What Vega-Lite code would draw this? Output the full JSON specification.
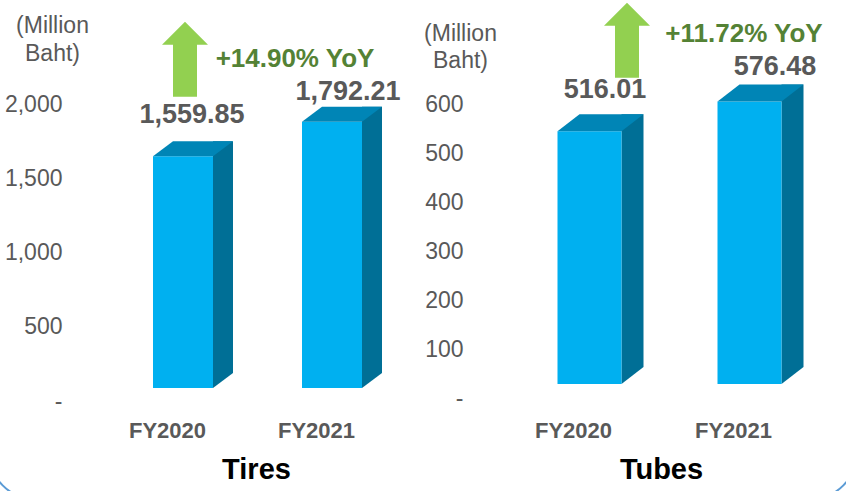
{
  "$schema": "https://vega.github.io/schema/vega-lite/v6.json",
  "width": 846,
  "height": 491,
  "autosize": {"type": "none"},
  "padding": 0,
  "background": "white",
  "config": {
    "font": "Liberation Sans",
    "view": {"stroke": null},
    "axis": {"grid": false, "domain": false, "ticks": false, "tickSize": 0}
  },
  "layer": [
    {
      "data": {"values": [{"frame": "border"}]},
      "mark": {"type": "rect", "fill": null, "stroke": "#5b9bd5", "strokeWidth": 2, "cornerRadius": 50},
      "encoding": {
        "x": {"datum": 0, "type": "quantitative", "scale": {"domain": [0, 1], "range": [-12, 858], "nice": false, "zero": false}, "axis": null},
        "x2": {"datum": 1},
        "y": {"datum": 0, "type": "quantitative", "scale": {"domain": [0, 1], "range": [-30, 500], "nice": false, "zero": false}, "axis": null},
        "y2": {"datum": 1}
      }
    },
    {
      "data": {"values": [
        {"segment": "Tires", "year": "FY2020", "value": 1559.85, "yoy": "+14.90% YoY"},
        {"segment": "Tires", "year": "FY2021", "value": 1792.21, "yoy": "+14.90% YoY"}
      ]},
      "encoding": {
        "x": {"field": "year", "type": "nominal", "scale": {"type": "point", "range": [167, 316], "padding": 0},
          "axis": {"orient": "bottom", "offset": -90, "labelFontSize": 22, "labelFontWeight": "bold", "labelColor": "#595959", "labelBaseline": "alphabetic", "labelPadding": 36, "labelAngle": 0,
            "title": "Tires", "titleFontSize": 29, "titleFontWeight": "bold", "titleColor": "#000000", "titleX": 256, "titleY": 77, "titleAlign": "center", "titleBaseline": "alphabetic"}},
        "y": {"field": "value", "type": "quantitative", "scale": {"domain": [0, 2000], "range": [401, 104], "nice": false},
          "axis": {"orient": "left", "offset": -70, "values": [0, 500, 1000, 1500, 2000], "labelExpr": "datum.value == 0 ? '-' : format(datum.value, ',')", "labelFontSize": 23, "labelColor": "#595959", "labelPadding": 8, "labelBaseline": "middle",
            "title": ["(Million", "Baht)"], "titleAngle": 0, "titleAlign": "center", "titleBaseline": "alphabetic", "titleX": -18, "titleY": 32, "titleFontSize": 23, "titleFontWeight": "normal", "titleColor": "#595959", "titleLineHeight": 28}}
      },
      "layer": [
        {"mark": {"type": "bar", "width": 20, "color": "#006f96", "xOffset": 56, "yOffset": -28, "y2Offset": -28}},
        {"mark": {"type": "point", "shape": "M -1 -0.75 L -1 0.75 L 1 -0.75 Z", "size": 400, "filled": true, "opacity": 1, "color": "#006f96", "strokeWidth": 0, "xOffset": 56, "yOffset": -20.5},
          "encoding": {"y": {"datum": 0, "type": "quantitative"}}},
        {"mark": {"type": "bar", "width": 60, "color": "#00b0f0", "xOffset": 16, "yOffset": -13, "y2Offset": -13}},
        {"mark": {"type": "point", "shape": "M -1 0.1875 L 0.5 0.1875 L 1 -0.1875 L -0.5 -0.1875 Z", "size": 6400, "filled": true, "opacity": 1, "color": "#0085b6", "strokeWidth": 0, "xOffset": 26, "yOffset": -20.5}},
        {"transform": [{"filter": "datum.year == 'FY2020'"}],
          "mark": {"type": "text", "fontSize": 27, "fontWeight": "bold", "color": "#595959", "baseline": "alphabetic", "align": "center", "dx": 25, "dy": -46},
          "encoding": {"text": {"field": "value", "type": "quantitative", "format": ",.2f"}}},
        {"transform": [{"filter": "datum.year == 'FY2021'"}],
          "mark": {"type": "text", "fontSize": 27, "fontWeight": "bold", "color": "#595959", "baseline": "alphabetic", "align": "center", "dx": 32, "dy": -35},
          "encoding": {"text": {"field": "value", "type": "quantitative", "format": ",.2f"}}},
        {"transform": [{"filter": "datum.year == 'FY2020'"}],
          "mark": {"type": "point", "shape": "M 0 -1 L 0.613 -0.387 L 0.32 -0.387 L 0.32 1 L -0.32 1 L -0.32 -0.387 L -0.613 -0.387 Z", "size": 5625, "filled": true, "opacity": 1, "color": "#92d050", "strokeWidth": 0, "xOffset": 18, "yOffset": -110}},
        {"transform": [{"filter": "datum.year == 'FY2021'"}],
          "mark": {"type": "text", "fontSize": 26, "fontWeight": "bold", "color": "#548235", "baseline": "alphabetic", "align": "center", "dx": -21, "dy": -68},
          "encoding": {"text": {"field": "yoy", "type": "nominal"}}}
      ]
    },
    {
      "data": {"values": [
        {"segment": "Tubes", "year": "FY2020", "value": 516.01, "yoy": "+11.72% YoY"},
        {"segment": "Tubes", "year": "FY2021", "value": 576.48, "yoy": "+11.72% YoY"}
      ]},
      "encoding": {
        "x": {"field": "year", "type": "nominal", "scale": {"type": "point", "range": [573, 733], "padding": 0},
          "axis": {"orient": "bottom", "offset": -90, "labelFontSize": 22, "labelFontWeight": "bold", "labelColor": "#595959", "labelBaseline": "alphabetic", "labelPadding": 36, "labelAngle": 0,
            "title": "Tubes", "titleFontSize": 29, "titleFontWeight": "bold", "titleColor": "#000000", "titleX": 661, "titleY": 77, "titleAlign": "center", "titleBaseline": "alphabetic"}},
        "y": {"field": "value", "type": "quantitative", "scale": {"domain": [0, 600], "range": [398, 104], "nice": false},
          "axis": {"orient": "left", "offset": -471, "values": [0, 100, 200, 300, 400, 500, 600], "labelExpr": "datum.value == 0 ? '-' : format(datum.value, ',')", "labelFontSize": 23, "labelColor": "#595959", "labelPadding": 8, "labelBaseline": "middle",
            "title": ["(Million", "Baht)"], "titleAngle": 0, "titleAlign": "center", "titleBaseline": "alphabetic", "titleX": -11, "titleY": 40, "titleFontSize": 23, "titleFontWeight": "normal", "titleColor": "#595959", "titleLineHeight": 27}}
      },
      "layer": [
        {"mark": {"type": "bar", "width": 22, "color": "#006f96", "xOffset": 59.5, "yOffset": -31, "y2Offset": -31}},
        {"mark": {"type": "point", "shape": "M -1 -0.773 L -1 0.773 L 1 -0.773 Z", "size": 484, "filled": true, "opacity": 1, "color": "#006f96", "strokeWidth": 0, "xOffset": 59.5, "yOffset": -22.5},
          "encoding": {"y": {"datum": 0, "type": "quantitative"}}},
        {"mark": {"type": "bar", "width": 64, "color": "#00b0f0", "xOffset": 16.5, "yOffset": -14, "y2Offset": -14}},
        {"mark": {"type": "point", "shape": "M -1 0.198 L 0.488 0.198 L 1 -0.198 L -0.488 -0.198 Z", "size": 7396, "filled": true, "opacity": 1, "color": "#0085b6", "strokeWidth": 0, "xOffset": 27.5, "yOffset": -22.5}},
        {"transform": [{"filter": "datum.year == 'FY2020'"}],
          "mark": {"type": "text", "fontSize": 27, "fontWeight": "bold", "color": "#595959", "baseline": "alphabetic", "align": "center", "dx": 32, "dy": -47},
          "encoding": {"text": {"field": "value", "type": "quantitative", "format": ",.2f"}}},
        {"transform": [{"filter": "datum.year == 'FY2021'"}],
          "mark": {"type": "text", "fontSize": 27, "fontWeight": "bold", "color": "#595959", "baseline": "alphabetic", "align": "center", "dx": 42, "dy": -40.5},
          "encoding": {"text": {"field": "value", "type": "quantitative", "format": ",.2f"}}},
        {"transform": [{"filter": "datum.year == 'FY2020'"}],
          "mark": {"type": "point", "shape": "M 0 -1 L 0.613 -0.387 L 0.32 -0.387 L 0.32 1 L -0.32 1 L -0.32 -0.387 L -0.613 -0.387 Z", "size": 5625, "filled": true, "opacity": 1, "color": "#92d050", "strokeWidth": 0, "xOffset": 54, "yOffset": -105}},
        {"transform": [{"filter": "datum.year == 'FY2021'"}],
          "mark": {"type": "text", "fontSize": 26, "fontWeight": "bold", "color": "#548235", "baseline": "alphabetic", "align": "center", "dx": 11, "dy": -73.5},
          "encoding": {"text": {"field": "yoy", "type": "nominal"}}}
      ]
    }
  ],
  "resolve": {"scale": {"x": "independent", "y": "independent"}, "axis": {"x": "independent", "y": "independent"}}
}
